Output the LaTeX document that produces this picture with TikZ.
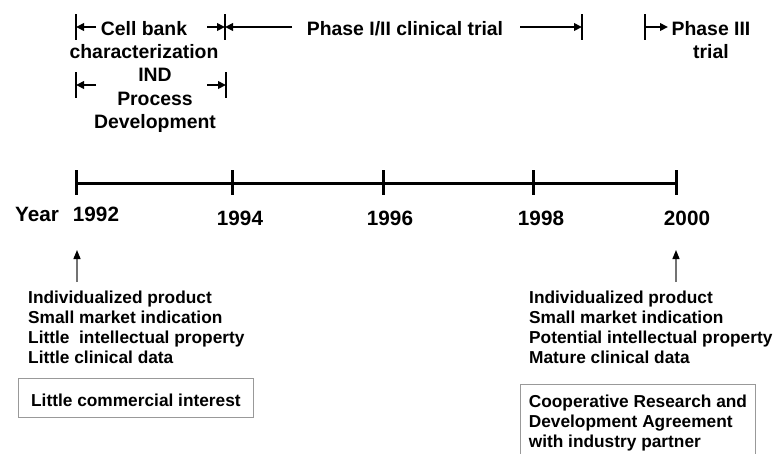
\documentclass[tikz,border=0pt]{standalone}
\usepackage{fontspec}
\setmainfont{Liberation Sans}
\usetikzlibrary{arrows.meta,calc}

\tikzset{
  spanlbl/.style={font=\fontsize{19.4}{23.5}\selectfont\bfseries, align=center, inner sep=0pt},
  yearlbl/.style={font=\fontsize{20.7}{24}\selectfont\bfseries, inner sep=0pt, anchor=base},
  infotxt/.style={font=\fontsize{17.3}{20}\selectfont\bfseries, align=left, inner sep=0pt, anchor=north west},
  infobox/.style={draw=black!40, line width=0.9pt, font=\fontsize{17.3}{20}\selectfont\bfseries,
    align=left, anchor=north west, minimum width=235pt},
  spanbar/.style={line width=2.6pt},
  spanarr/.style={line width=2pt, -{Triangle[length=8pt,width=7.5pt]}},
  axis/.style={line width=3pt},
  uparr/.style={draw=black!55, line width=1.3pt, -{Triangle[length=9pt,width=7pt,color=black]}}
}

\begin{document}
\begin{tikzpicture}[x=1pt,y=-1pt]
  \clip (0,0) rectangle (773,453);

  % time axis
  \coordinate (t92) at (76,183);
  \coordinate (t94) at (232,183);
  \coordinate (t96) at (383,183);
  \coordinate (t98) at (533,183);
  \coordinate (t00) at (676,183);
  \draw[axis] (t92) -- (t00);
  \foreach \c in {t92,t94,t96,t98,t00}
    \draw[axis] ($(\c)+(0,-13)$) -- ($(\c)+(0,12)$);

  \node[yearlbl] (yr) at (37,221) {Year};
  \node[yearlbl] (y92) at (96,221) {1992};
  \node[yearlbl] (y94) at (240,225) {1994};
  \node[yearlbl] (y96) at (390,225) {1996};
  \node[yearlbl] (y98) at (541,225) {1998};
  \node[yearlbl] (y00) at (687,225) {2000};

  % spans on top
  \coordinate (b1) at (76,27);
  \coordinate (b2) at (225,27);
  \coordinate (b3) at (582,27);
  \coordinate (b4) at (645,27);
  \coordinate (c1) at (76,85);
  \coordinate (c2) at (226,85);
  \foreach \c in {b1,b2,b3,b4,c1,c2}
    \draw[spanbar] ($(\c)+(0,-13)$) -- ($(\c)+(0,13)$);

  \node[spanlbl, anchor=north] (cellbank) at (144,21) {Cell bank\\characterization};
  \node[spanlbl, anchor=base] (phase12) at (405,35) {Phase I/II clinical trial};
  \node[spanlbl, anchor=north] (phase3) at (711,21) {Phase III\\trial};
  \node[spanlbl, anchor=north] (ind) at (155,68) {IND\\Process\\Development};

  \draw[spanarr] ($(b1)+(20,0)$) -- (b1);
  \draw[spanarr] ($(b2)+(-18,0)$) -- (b2);
  \draw[spanarr] ($(b2)+(67,0)$) -- (b2);
  \draw[spanarr] ($(b3)+(-62,0)$) -- (b3);
  \draw[spanarr] (b4) -- ($(b4)+(23,0)$);
  \draw[spanarr] ($(c1)+(20,0)$) -- (c1);
  \draw[spanarr] ($(c2)+(-19,0)$) -- (c2);

  % before / after
  \node[infotxt] (before) at (28,290.6) {Individualized product\\Small market indication\\Little\ \ intellectual property\\Little clinical data};
  \node[infotxt] (after) at (529,290.6) {Individualized product\\Small market indication\\Potential intellectual property\\Mature clinical data};

  \coordinate (s92) at (77,282);
  \coordinate (e92) at (77,250);
  \coordinate (s00) at (676,282);
  \coordinate (e00) at (676,250);
  \draw[uparr] (s92) -- (e92);
  \draw[uparr] (s00) -- (e00);

  \node[infobox, minimum height=39pt, text height=17pt, text depth=0pt] (lowint) at (18,378) {Little commercial interest};
  \node[infobox, inner ysep=11pt] (crada) at (520,384) {Cooperative Research and\\Development Agreement\\with industry partner};
\end{tikzpicture}
\end{document}
